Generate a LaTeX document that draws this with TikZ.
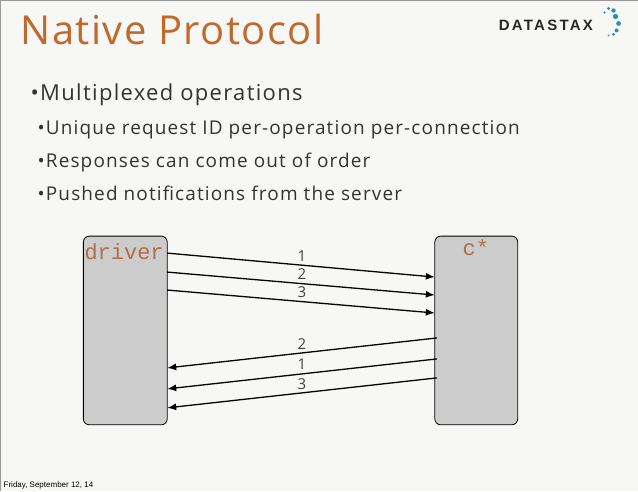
\documentclass[tikz,border=0pt]{standalone}
\usetikzlibrary{arrows.meta}
\usepackage{fontspec}
\setmainfont{Open Sans}[LetterSpace=6]
\newfontfamily\titlef{Open Sans}[LetterSpace=3.5]
\newfontfamily\monof{Liberation Mono}
\newfontfamily\helv{Liberation Sans}[LetterSpace=15]
\newfontfamily\footf{Liberation Sans}
\definecolor{ttl}{HTML}{C0692B}
\definecolor{mono}{HTML}{B0704A}
\definecolor{bg}{HTML}{F7F7F5}
\definecolor{dot}{HTML}{2B8FAE}
\begin{document}
\begin{tikzpicture}[x=1pt,y=-1pt,
  box/.style={draw=black,line width=0.8pt,fill=black!20,rounded corners=6pt},
  msg/.style={-{Latex[length=9pt,width=7pt]},line width=1.3pt},
  num/.style={font=\fontsize{15}{15}\selectfont,text=black!75,inner sep=0pt},
  txt/.style={anchor=base west,inner sep=0pt,text=black!80}]
\fill[bg] (0,0) rectangle (638,491);
\draw[black!40,line width=1pt] (0,491) -- (0,0) -- (638,0);
\useasboundingbox (0,0) rectangle (638,491);
\node[txt,text=ttl,font=\titlef\fontsize{40}{40}\selectfont] (title) at (20,44) {Native Protocol};
\node[txt,font=\fontsize{22}{22}\selectfont] (b1) at (30,100) {•Multiplexed operations};
\node[txt,font=\fontsize{19}{19}\selectfont] (b2) at (37,134) {•Unique request ID per-operation per-connection};
\node[txt,font=\fontsize{19}{19}\selectfont] (b3) at (37,167) {•Responses can come out of order};
\node[txt,font=\fontsize{19}{19}\selectfont] (b4) at (37,200) {•Pushed notifications from the server};
% logo
\node[txt,text=black!85,font=\helv\bfseries\fontsize{15}{15}\selectfont] (logo) at (499,30) {DATASTAX};
\foreach \px/\py/\r in {605/12/1.2,609/8/1.6,614/10/2.2,616/16/2.6,619/23/2.4,617/30/2,614/34/1.5,609/35/1}
  \fill[dot] (\px,\py) circle (\r);
% boxes
\draw[box] (83,236) rectangle (167,425);
\draw[box] (435,236) rectangle (518,425);
\node[anchor=north west,inner sep=0pt,text=mono,font=\monof\fontsize{22}{22}\selectfont] (drv) at (84,243) {driver};
\node[anchor=north,inner sep=0pt,text=mono,font=\monof\fontsize{22}{22}\selectfont] (cs) at (476,239) {c*};
\coordinate (d1) at (167,253); \coordinate (c1) at (435,277);
\coordinate (d2) at (167,272); \coordinate (c2) at (435,295);
\coordinate (d3) at (167,290); \coordinate (c3) at (435,313);
\coordinate (c4) at (437,338); \coordinate (d4) at (167,368);
\coordinate (c5) at (437,359); \coordinate (d5) at (167,389);
\coordinate (c6) at (437,378); \coordinate (d6) at (167,408);
\draw[msg] (d1) -- (c1); \draw[msg] (d2) -- (c2); \draw[msg] (d3) -- (c3);
\draw[msg] (c4) -- (d4); \draw[msg] (c5) -- (d5); \draw[msg] (c6) -- (d6);
\node[num] (n1) at (302,256) {1};
\node[num] (n2) at (302,274) {2};
\node[num] (n3) at (302,292) {3};
\node[num] (n4) at (302,344) {2};
\node[num] (n5) at (302,364) {1};
\node[num] (n6) at (302,384) {3};
\node[txt,text=black,font=\footf\fontsize{8}{8}\selectfont] (foot) at (3,488) {Friday, September 12, 14};
\end{tikzpicture}
\end{document}
